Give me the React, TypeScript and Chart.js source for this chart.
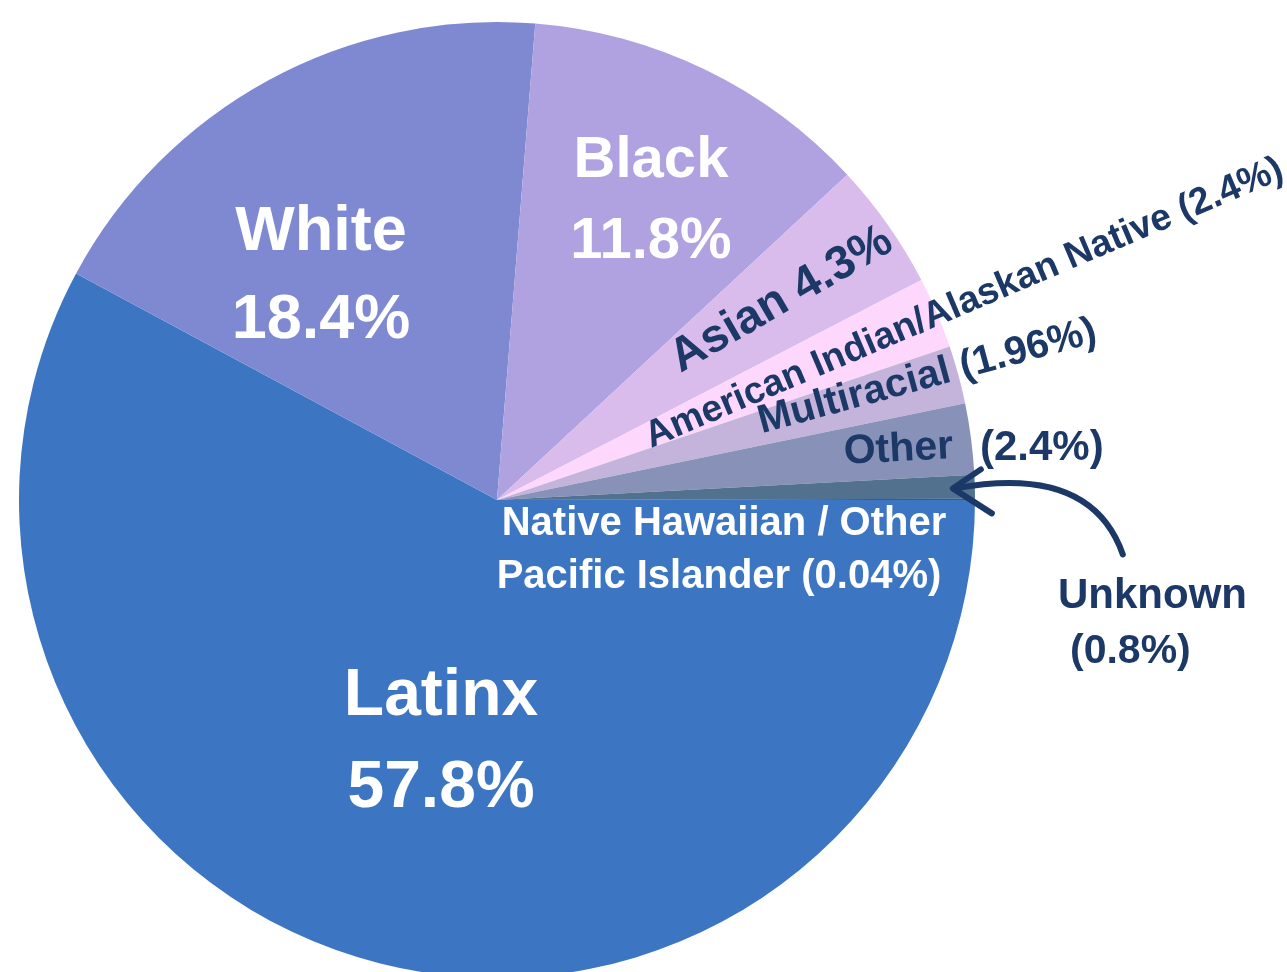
import React, { useEffect, useRef } from "react";
import { Chart, registerables } from "chart.js";

Chart.register(...registerables);

// ---- data ----
const categories = [
  "Latinx",
  "White",
  "Black",
  "Asian",
  "American Indian/Alaskan Native",
  "Multiracial",
  "Other",
  "Unknown",
  "Native Hawaiian / Other Pacific Islander",
];
const percentages = [57.8, 18.4, 11.8, 4.3, 2.4, 1.96, 2.4, 0.8, 0.04];
const sliceColors = [
  "#3c76c2",
  "#7f89d1",
  "#b0a2e0",
  "#d9bcec",
  "#fdd8fc",
  "#c4b3da",
  "#8891b8",
  "#52718f",
  "#2e5d8f",
];

// ---- styles ----
const FONT = '"Liberation Sans", Arial, sans-serif';
const NAVY = "#1c3867";
const WHITE = "#ffffff";
const R0 = 478; // reference radius that the label offsets are expressed against

const pct = (i: number) => `${percentages[i]}%`;

// Horizontal labels: offsets from the pie centre (at reference radius), alphabetic baseline
type HLabel = { text: string; dx: number; dy: number; size: number; color: string; align: CanvasTextAlign; rot?: number };
const horizontalLabels: HLabel[] = [
  { text: categories[1], dx: -176, dy: -250, size: 63, color: WHITE, align: "center" },
  { text: pct(1), dx: -176, dy: -162, size: 63, color: WHITE, align: "center" },
  { text: categories[2], dx: 154, dy: -323, size: 58, color: WHITE, align: "center" },
  { text: pct(2), dx: 154, dy: -242, size: 58, color: WHITE, align: "center" },
  { text: categories[0], dx: -56, dy: 215, size: 66, color: WHITE, align: "center" },
  { text: pct(0), dx: -56, dy: 307, size: 66, color: WHITE, align: "center" },
  { text: "Native Hawaiian / Other", dx: 227, dy: 35, size: 40, color: WHITE, align: "center" },
  { text: `Pacific Islander (${pct(8)})`, dx: 222, dy: 88, size: 40, color: WHITE, align: "center" },
  { text: categories[6], dx: 402, dy: -39, size: 41, color: NAVY, align: "center", rot: -3 },
  { text: `(${pct(6)})`, dx: 483, dy: -40, size: 42, color: NAVY, align: "left" },
  { text: categories[7], dx: 561, dy: 108, size: 42, color: NAVY, align: "left" },
  { text: `(${pct(7)})`, dx: 573, dy: 163, size: 41, color: NAVY, align: "left" },
];

// Radial labels: placed along a slice's middle angle
type RLabel = { index: number; text: string; dist: number; perp: number; size: number; align: CanvasTextAlign; rot?: number };
const radialLabels: RLabel[] = [
  { index: 3, text: `${categories[3]} ${pct(3)}`, dist: 348, perp: 0, size: 47, align: "center", rot: -30 },
  { index: 4, text: `${categories[4]} (${pct(4)})`, dist: 162, perp: 2, size: 37.5, align: "left" },
  { index: 5, text: `${categories[5]} (${pct(5)})`, dist: 273, perp: -6, size: 40, align: "left" },
];

const labelPlugin = {
  id: "sliceLabels",
  afterDatasetsDraw(chart: any) {
    const meta = chart.getDatasetMeta(0);
    if (!meta || !meta.data.length) return;
    const ctx: CanvasRenderingContext2D = chart.ctx;
    const first = meta.data[0].getProps(["x", "y", "outerRadius"], true);
    const cx = first.x;
    const cy = first.y;
    const k = first.outerRadius / R0;

    ctx.save();
    // horizontal labels
    for (const l of horizontalLabels) {
      ctx.save();
      ctx.font = `bold ${l.size * k}px ${FONT}`;
      ctx.fillStyle = l.color;
      ctx.textAlign = l.align;
      ctx.textBaseline = "alphabetic";
      ctx.translate(cx + l.dx * k, cy + l.dy * k);
      if (l.rot) ctx.rotate((l.rot * Math.PI) / 180);
      ctx.fillText(l.text, 0, 0);
      ctx.restore();
    }

    // radial labels
    for (const l of radialLabels) {
      const arc = meta.data[l.index].getProps(["startAngle", "endAngle"], true);
      const mid = (arc.startAngle + arc.endAngle) / 2;
      const rot = l.rot !== undefined ? (l.rot * Math.PI) / 180 : mid;
      const px = cx + Math.cos(mid) * l.dist * k - Math.sin(mid) * l.perp * k;
      const py = cy + Math.sin(mid) * l.dist * k + Math.cos(mid) * l.perp * k;
      ctx.save();
      ctx.translate(px, py);
      ctx.rotate(rot);
      ctx.font = `bold ${l.size * k}px ${FONT}`;
      ctx.fillStyle = NAVY;
      ctx.textAlign = l.align;
      ctx.textBaseline = "middle";
      ctx.fillText(l.text, 0, 0);
      ctx.restore();
    }

    // curved arrow pointing at the "Unknown" slice
    const unk = meta.data[7].getProps(["startAngle", "endAngle"], true);
    const um = (unk.startAngle + unk.endAngle) / 2;
    const tipX = cx + Math.cos(um) * (first.outerRadius - 22 * k);
    const tipY = cy + Math.sin(um) * (first.outerRadius - 22 * k) + 1 * k;
    ctx.strokeStyle = NAVY;
    ctx.lineWidth = 6 * k;
    ctx.lineCap = "round";
    ctx.lineJoin = "round";
    ctx.beginPath();
    ctx.moveTo(tipX + 170 * k, tipY + 66 * k);
    ctx.quadraticCurveTo(tipX + 138 * k, tipY - 25 * k, tipX + 3 * k, tipY);
    ctx.stroke();
    ctx.beginPath();
    ctx.moveTo(tipX + 28 * k, tipY - 19 * k);
    ctx.lineTo(tipX, tipY);
    ctx.lineTo(tipX + 39 * k, tipY + 25 * k);
    ctx.stroke();
    ctx.restore();
  },
};

export default function App() {
  const canvasRef = useRef<HTMLCanvasElement | null>(null);

  useEffect(() => {
    if (!canvasRef.current) return;
    const chart = new Chart(canvasRef.current, {
      type: "pie",
      data: {
        labels: categories,
        datasets: [
          {
            data: percentages,
            backgroundColor: sliceColors,
            borderWidth: 0,
            radius: 478,
            clip: false as any,
          } as any,
        ],
      },
      options: {
        responsive: false,
        animation: false,
        devicePixelRatio: 1,
        rotation: 90,
        layout: { padding: { left: 0, top: 28, right: 293, bottom: 0 } },
        plugins: {
          legend: { display: false },
          tooltip: { enabled: false },
        },
      },
      plugins: [labelPlugin],
    });
    return () => chart.destroy();
  }, []);

  return (
    <div
      style={{
        position: "fixed",
        left: 0,
        top: 0,
        width: 1287,
        height: 972,
        overflow: "hidden",
        background: "#ffffff",
      }}
    >
      <canvas ref={canvasRef} width={1287} height={972} style={{ display: "block" }} />
    </div>
  );
}
